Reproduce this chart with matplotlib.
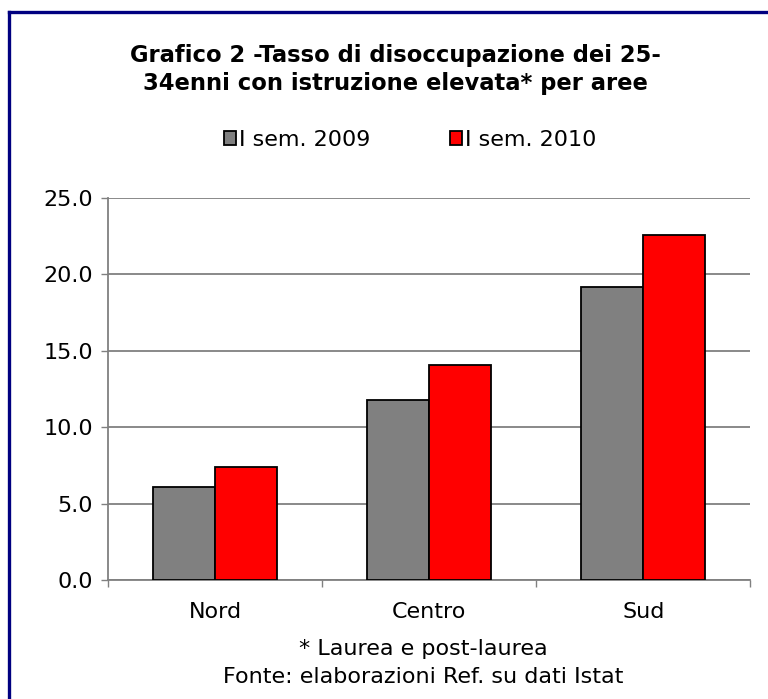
import numpy as np
import matplotlib.pyplot as plt
from matplotlib.lines import Line2D

categories = ['Nord', 'Centro', 'Sud']
sem_2009 = [6.1, 11.8, 19.2]
sem_2010 = [7.4, 14.1, 22.6]
series_labels = ['I sem. 2009', 'I sem. 2010']
yticks = [0, 5, 10, 15, 20, 25]

plt.rcParams['font.family'] = ['DejaVu Sans']
fs = 16

fig = plt.figure(figsize=(7.68, 6.99), dpi=100)
ax = fig.add_axes([0.141, 0.170, 0.836, 0.547])

x = np.arange(len(categories))
w = 0.29
b1 = ax.bar(x - w / 2, sem_2009, w, color='#808080', edgecolor='black',
            linewidth=1.3, zorder=3, label=series_labels[0])
b2 = ax.bar(x + w / 2, sem_2010, w, color='#ff0000', edgecolor='black',
            linewidth=1.3, zorder=3, label=series_labels[1])

ax.set_ylim(0, 25)
ax.set_xlim(-0.5, 2.5)
ax.set_yticks(yticks)
ax.set_yticklabels(['%.1f' % v for v in yticks], fontsize=fs)
ax.yaxis.grid(True, color='#808080', linewidth=1.3, zorder=0)
ax.set_xticks(x)
ax.set_xticklabels(categories, fontsize=fs)
ax.tick_params(axis='x', length=0, pad=15.5)
ax.set_xticks(np.arange(-0.5, 3, 1), minor=True)
ax.tick_params(axis='x', which='minor', length=5, color='#808080', width=1)
ax.tick_params(axis='y', length=5, color='#808080', width=1, pad=6)
for s in ['top', 'right']:
    ax.spines[s].set_visible(False)
for s in ['left', 'bottom']:
    ax.spines[s].set_color('#808080')
    ax.spines[s].set_linewidth(1.3)

fig.text(0.515, 0.921, 'Grafico 2 -Tasso di disoccupazione dei 25-',
         ha='center', va='center', fontsize=16.3, fontweight='bold')
fig.text(0.515, 0.881, '34enni con istruzione elevata* per aree',
         ha='center', va='center', fontsize=16.3, fontweight='bold')
fig.legend(handles=[b1, b2], loc='center', bbox_to_anchor=(0.534, 0.800),
           ncol=2, frameon=False, fontsize=fs, handlelength=0.55,
           handleheight=0.55, handletextpad=0.12, columnspacing=3.6)

fig.text(0.551, 0.0715, '* Laurea e post-laurea', ha='center', va='center',
         fontsize=fs)
fig.text(0.551, 0.0315, 'Fonte: elaborazioni Ref. su dati Istat', ha='center',
         va='center', fontsize=fs)

# cornice blu (tagliata a destra e in basso)
fig.add_artist(Line2D([0.012, 0.012], [0, 0.983], color='#000080',
                      linewidth=2.4, transform=fig.transFigure))
fig.add_artist(Line2D([0.012, 1], [0.983, 0.983], color='#000080',
                      linewidth=2.4, transform=fig.transFigure))

fig.savefig('out.png', dpi=100)
